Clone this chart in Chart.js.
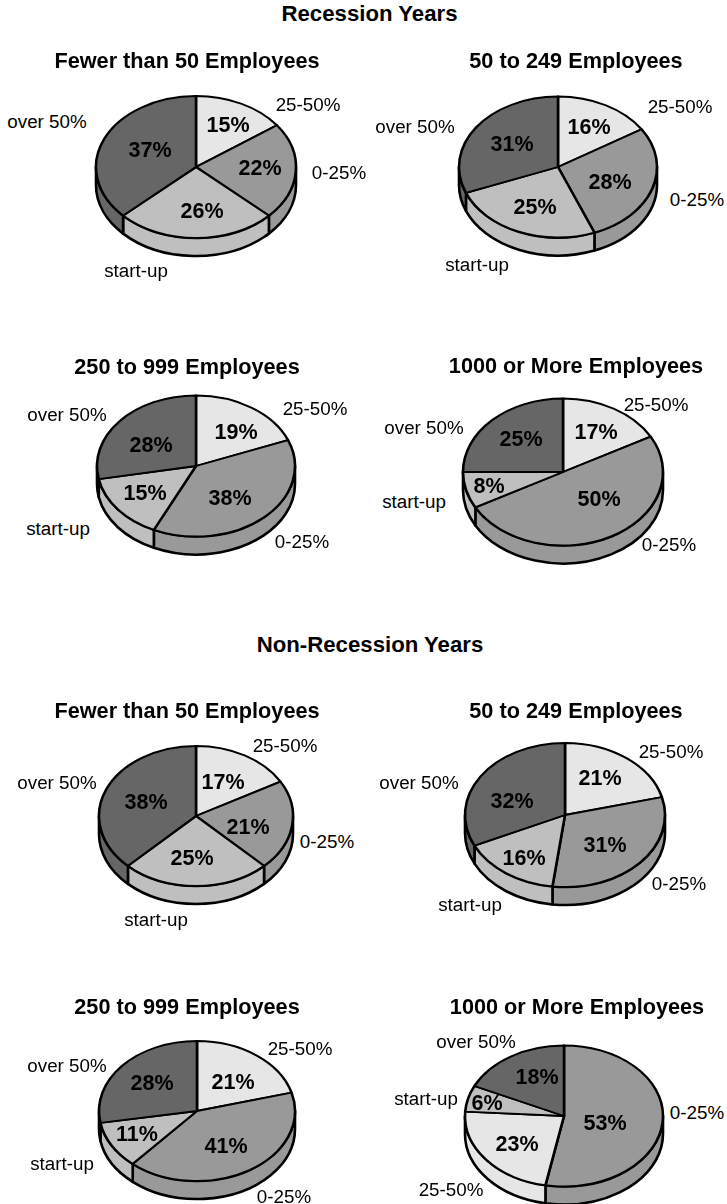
<!DOCTYPE html>
<html><head><meta charset="utf-8">
<script src="https://cdn.jsdelivr.net/npm/chart.js@4"></script>
<style>
html,body{margin:0;padding:0;background:#fff;width:727px;height:1204px;overflow:hidden}
#page{position:relative;width:727px;height:1204px;overflow:hidden;font-family:"Liberation Sans",Arial,sans-serif;color:#000}
canvas{position:absolute}
.t{position:absolute;white-space:nowrap;transform:translate(-50%,-50%);line-height:1}
.s{font-weight:700;font-size:22.2px}
.h{font-weight:700;font-size:21.7px}
.o{font-size:18.8px}
.p{font-weight:700;font-size:21.5px;transform:translate(-50%,-45%)}
</style></head><body><div id="page"></div>
<script>
// ---- data ----
const categories = ['25-50%','0-25%','start-up','over 50%'];
const categoriesLastPie = ['0-25%','25-50%','start-up','over 50%'];
const pieTitles = ['Fewer than 50 Employees','50 to 249 Employees','250 to 999 Employees','1000 or More Employees'];
const sectionTitles = ['Recession Years','Non-Recession Years'];
const recessionFewer50 = [15,22,26,37];
const recession50to249 = [16,28,25,31];
const recession250to999 = [19,38,15,28];
const recession1000plus = [17,50,8,25];
const nonRecessionFewer50 = [17,21,25,38];
const nonRecession50to249 = [21,31,16,32];
const nonRecession250to999 = [21,41,11,28];
const nonRecession1000plus = [53,23,6,18];

// ---- styling / layout ----
const shade = {'25-50%':'#e6e6e6','0-25%':'#999999','start-up':'#bfbfbf','over 50%':'#666666'};
const DEPTH = 18;
const LINE = 2.6;
const sectionPos = [[369.5,14],[370,645]];
const pies = [
 {v:recessionFewer50,c:categories,t:0,cx:196,cy:167,rx:100,ry:71,title:[187,61],
  pct:[[228,125],[260,168],[202,211],[150,150]],out:[[308,105],[339,173],[136,271],[47,122]]},
 {v:recession50to249,c:categories,t:1,cx:558,cy:167,rx:99,ry:70.5,title:[576,61],
  pct:[[589,127],[610,182],[535,207],[512,144]],out:[[680,107],[697,200],[477,265],[415,127]]},
 {v:recession250to999,c:categories,t:2,cx:195.5,cy:465.5,rx:99,ry:70.5,title:[187,367],
  pct:[[236,432],[230,498],[145,493],[151,445]],out:[[315,409],[302,542],[58,529],[67,415]]},
 {v:recession1000plus,c:categories,t:3,cx:562.5,cy:471.5,rx:100,ry:73.5,title:[576,366],
  pct:[[596,432],[599,499],[489,486],[521,439]],out:[[656,405],[669,545],[414,502],[424,428]]},
 {v:nonRecessionFewer50,c:categories,t:0,cx:195.5,cy:816,rx:97,ry:70,title:[187,711],
  pct:[[223,782],[248,827],[192,858],[146,802]],out:[[285,746],[327,842],[156,920],[57,783]]},
 {v:nonRecession50to249,c:categories,t:1,cx:564.5,cy:815,rx:100,ry:72,title:[576,711],
  pct:[[600,778],[605,845],[524,858],[512,801]],out:[[671,752],[679,884],[470,905],[419,783]]},
 {v:nonRecession250to999,c:categories,t:2,cx:197,cy:1110.5,rx:98,ry:70,title:[187,1007],
  pct:[[233,1082],[226,1146],[137,1134],[152,1083]],out:[[300,1049],[284,1197],[62,1164],[67,1066]]},
 {v:nonRecession1000plus,c:categoriesLastPie,t:3,cx:564,cy:1116,rx:99,ry:70.5,title:[577,1007],
  pct:[[605,1123],[517,1144],[487,1103],[537,1077]],out:[[697,1113],[451,1190],[426,1099],[476,1042]]}
];

const page = document.getElementById('page');
function addText(txt,cls,pos){
  const d=document.createElement('div');d.className='t '+cls;d.textContent=txt;
  d.style.left=pos[0]+'px';d.style.top=pos[1]+'px';page.appendChild(d);
}
sectionTitles.forEach((s,i)=>addText(s,'s',sectionPos[i]));

const tiltPlugin = {
  id:'tilt',
  beforeDatasetsDraw(chart){
    const k = chart.options.plugins.tilt.ratio;
    const ctx = chart.ctx, arcs = chart.getDatasetMeta(0).data;
    const x0=arcs[0].x, y0=arcs[0].y, rx=arcs[0].outerRadius, ry=rx*k;
    ctx.save();
    ctx.lineWidth=LINE; ctx.strokeStyle='#000'; ctx.lineJoin='round';
    arcs.forEach(a=>{
      const s=Math.max(a.startAngle,0), e=Math.min(a.endAngle,Math.PI);
      if(e<=s) return;
      ctx.beginPath();
      ctx.ellipse(x0,y0,rx,ry,0,s,e);
      ctx.ellipse(x0,y0+DEPTH,rx,ry,0,e,s,true);
      ctx.closePath();
      ctx.fillStyle=a.options.backgroundColor;
      ctx.fill();ctx.stroke();
    });
    ctx.restore();
    ctx.save();
    ctx.translate(x0,y0);ctx.scale(1,k);ctx.translate(-x0,-y0);
  },
  afterDatasetsDraw(chart){ chart.ctx.restore(); }
};

pies.forEach(p=>{
  const size=2*Math.ceil(p.rx)+10;
  const cv=document.createElement('canvas');
  cv.width=size;cv.height=size;
  cv.style.width=size+'px';cv.style.height=size+'px';
  cv.style.left=(p.cx-size/2)+'px';cv.style.top=(p.cy-size/2)+'px';
  page.appendChild(cv);
  new Chart(cv,{
    type:'pie',
    data:{labels:p.c,datasets:[{data:p.v,backgroundColor:p.c.map(n=>shade[n]),borderColor:'#000',borderWidth:LINE,borderJoinStyle:'round'}]},
    options:{
      responsive:false,animation:false,radius:p.rx,
      layout:{padding:0},
      plugins:{legend:{display:false},tooltip:{enabled:false},tilt:{ratio:p.ry/p.rx}}
    },
    plugins:[tiltPlugin]
  });
});
// text goes above every canvas
pies.forEach(p=>{
  addText(pieTitles[p.t],'h',p.title);
  p.c.forEach((n,i)=>{
    addText(n,'o',p.out[i]);
    addText(p.v[i]+'%','p',p.pct[i]);
  });
});
</script></body></html>
